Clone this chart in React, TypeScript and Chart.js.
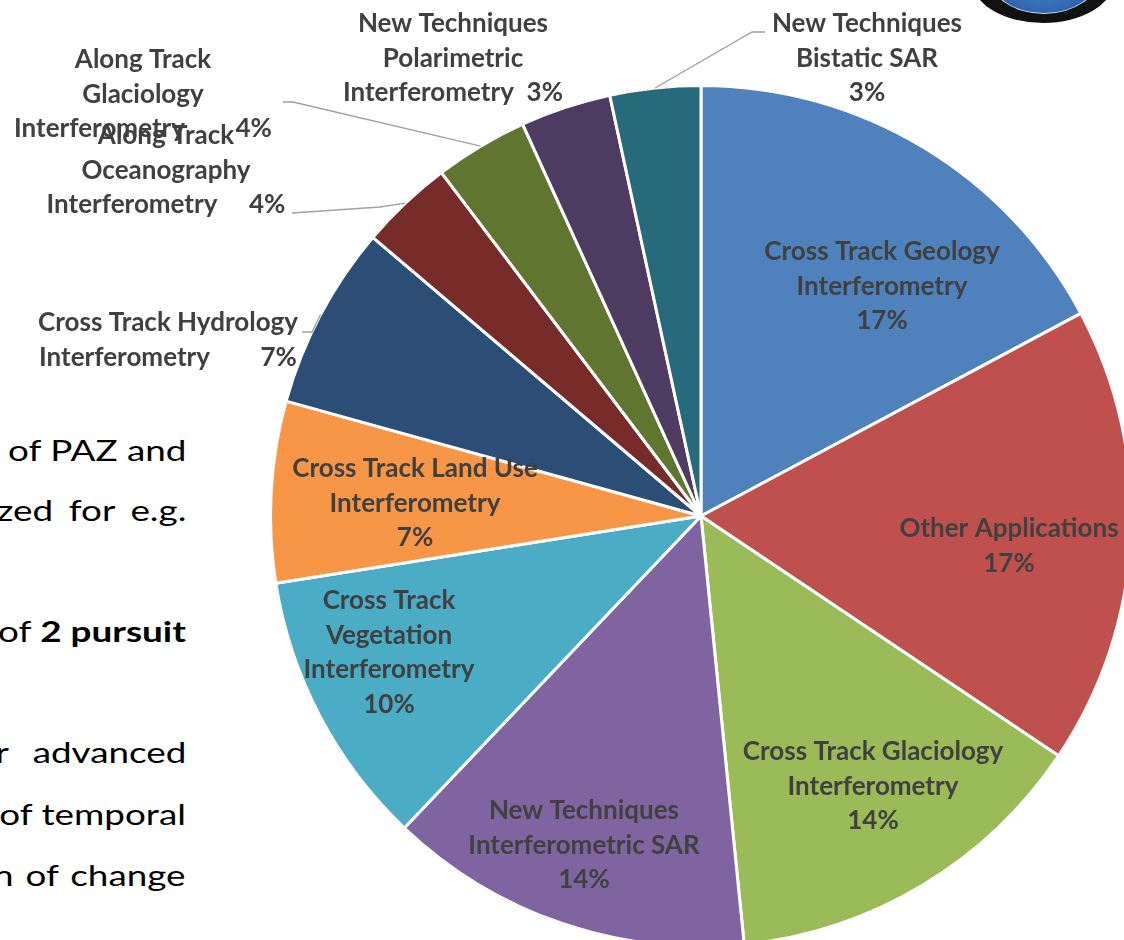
import React, { useEffect, useRef } from "react";
import { Chart, registerables } from "chart.js";

Chart.register(...registerables);

// ---- data ----
const categories = [
  "Cross Track Geology Interferometry",
  "Other Applications",
  "Cross Track Glaciology Interferometry",
  "New Techniques Interferometric SAR",
  "Cross Track Vegetation Interferometry",
  "Cross Track Land Use Interferometry",
  "Cross Track Hydrology Interferometry",
  "Along Track Oceanography Interferometry",
  "Along Track Glaciology Interferometry",
  "New Techniques Polarimetric Interferometry",
  "New Techniques Bistatic SAR",
];
const shares = [17.2, 17.2, 14.0, 13.7, 10.4, 6.8, 6.9, 3.5, 3.5, 3.4, 3.4];
const percentLabels = ["17%", "17%", "14%", "14%", "10%", "7%", "7%", "4%", "4%", "3%", "3%"];

// ---- styles / layout ----
const colors = [
  "#4F81BD", "#C0504D", "#9BBB59", "#8064A2", "#4BACC6", "#F79646",
  "#2C4D75", "#772C2A", "#5F7530", "#4D3B62", "#276A7C",
];

// label text lines (how each category label wraps); {p} = percent label
const labelLines: string[][] = [
  ["Cross Track Geology", "Interferometry", "{p}"],
  ["Other Applications", "{p}"],
  ["Cross Track Glaciology", "Interferometry", "{p}"],
  ["New Techniques", "Interferometric SAR", "{p}"],
  ["Cross Track", "Vegetation", "Interferometry", "{p}"],
  ["Cross Track Land Use", "Interferometry", "{p}"],
  ["Cross Track Hydrology", "Interferometry        {p}"],
  ["Along Track", "Oceanography", "Interferometry     {p}"],
  ["Along Track", "Glaciology", "Interferometry        {p}"],
  ["New Techniques", "Polarimetric", "Interferometry  {p}"],
  ["New Techniques", "Bistatic SAR", "{p}"],
];
// centre of first label line
const labelPos = [
  { x: 882, y: 252 },
  { x: 1009, y: 529 },
  { x: 873, y: 752 },
  { x: 584, y: 811 },
  { x: 389, y: 601 },
  { x: 415, y: 469 },
  { x: 168, y: 323 },
  { x: 166, y: 136 },
  { x: 143, y: 60 },
  { x: 453, y: 24 },
  { x: 867, y: 24 },
];
// leader line path after the point on the slice edge
const leaders: { i: number; pts: number[][] }[] = [
  { i: 10, pts: [[752, 32], [765, 32]] },
  { i: 8, pts: [[293, 102], [283, 102]] },
  { i: 7, pts: [[380, 207], [292, 213]] },
  { i: 6, pts: [[312, 332], [302, 332]] },
];
const LINE_H = 34.5;
const LABEL_FONT = "bold 26px Lato";
const LABEL_COLOR = "#404040";

const bodyLines = [
  { html: "of PAZ and", base: 461, ws: 0 },
  { html: "zed for e.g.", base: 521, ws: 5 },
  { html: "of <b>2 pursuit</b>", base: 642, ws: 0 },
  { html: "r advanced", base: 763, ws: 12 },
  { html: "of temporal", base: 825, ws: 0 },
  { html: "n of change", base: 886, ws: 2 },
];

const labelPlugin = {
  id: "pieLabels",
  afterDatasetsDraw(chart: any) {
    const ctx = chart.ctx;
    const meta = chart.getDatasetMeta(0);
    ctx.save();
    // leader lines
    ctx.strokeStyle = "#A0A0A0";
    ctx.lineWidth = 1.3;
    leaders.forEach((l) => {
      const arc = meta.data[l.i];
      const p = arc.getProps(["x", "y", "startAngle", "endAngle", "outerRadius"], true);
      const mid = (p.startAngle + p.endAngle) / 2;
      const sx = p.x + Math.cos(mid) * p.outerRadius;
      const sy = p.y + Math.sin(mid) * p.outerRadius;
      ctx.beginPath();
      ctx.moveTo(sx, sy);
      l.pts.forEach(([x, y]) => ctx.lineTo(x, y));
      ctx.stroke();
    });
    // labels
    ctx.font = LABEL_FONT;
    ctx.fillStyle = LABEL_COLOR;
    ctx.textAlign = "center";
    ctx.textBaseline = "middle";
    labelLines.forEach((lines, i) => {
      const pos = labelPos[i];
      lines.forEach((t, k) => {
        ctx.fillText(t.replace("{p}", percentLabels[i]), pos.x, pos.y + k * LINE_H);
      });
    });
    ctx.restore();
  },
};

export default function App() {
  const ref = useRef<HTMLCanvasElement | null>(null);
  useEffect(() => {
    document.body.style.margin = "0";
    const chart = new Chart(ref.current as HTMLCanvasElement, {
      type: "pie",
      data: {
        labels: categories,
        datasets: [
          {
            data: shares,
            backgroundColor: colors,
            borderColor: "#FFFFFF",
            borderWidth: 3,
          },
        ],
      },
      options: {
        animation: false,
        responsive: false,
        layout: { padding: { left: 269, right: 7, top: 84, bottom: 12 } },
        plugins: {
          legend: { display: false },
          tooltip: { enabled: false },
        },
      },
      plugins: [labelPlugin],
    });
    return () => chart.destroy();
  }, []);

  return (
    <div
      style={{
        position: "fixed",
        left: 0,
        top: 0,
        width: 1124,
        height: 940,
        overflow: "hidden",
        background: "#FFFFFF",
      }}
    >
      {bodyLines.map((l, i) => (
        <div
          key={i}
          style={{
            position: "absolute",
            right: 1124 - 186,
            top: l.base - 26,
            fontFamily: "Lato",
            fontSize: 29,
            lineHeight: "29px",
            whiteSpace: "nowrap",
            color: "#000",
            wordSpacing: l.ws,
            transform: "scaleX(1.27)",
            transformOrigin: "right center",
          }}
          dangerouslySetInnerHTML={{ __html: l.html }}
        />
      ))}
      {/* partial logo in the corner */}
      <div
        style={{
          position: "absolute",
          left: 972,
          top: -62,
          width: 142,
          height: 85,
          borderRadius: "50%",
          background: "#111",
        }}
      />
      <div
        style={{
          position: "absolute",
          left: 989,
          top: -62,
          width: 108,
          height: 74,
          borderRadius: "50%",
          border: "1px solid #ddd",
          background: "radial-gradient(ellipse at 50% 30%, #5b9be0, #1d4f9a)",
        }}
      />
      <canvas ref={ref} width={1140} height={960} style={{ position: "absolute", left: 0, top: 0 }} />
    </div>
  );
}
